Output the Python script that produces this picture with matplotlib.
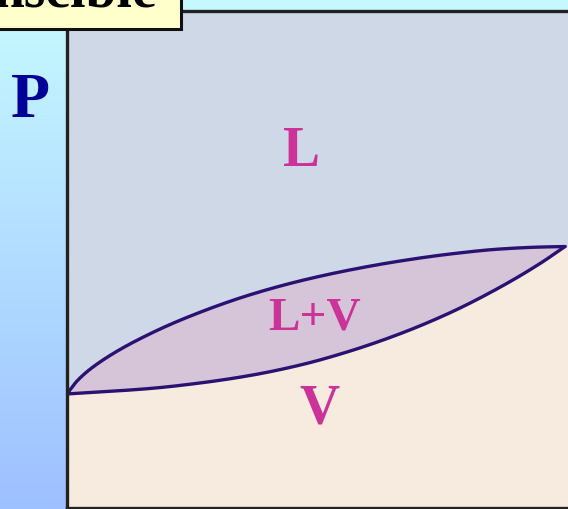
import numpy as np
import matplotlib
matplotlib.use("Agg")
import matplotlib.pyplot as plt
from matplotlib.patches import Rectangle

# Data (composition x, pressure P, normalised 0..1)
bubble_x = [0.0, 0.022, 0.066, 0.167, 0.267, 0.367, 0.468, 0.568, 0.669, 0.769, 0.869, 0.950, 1.0]
bubble_p = [0.229, 0.257, 0.293, 0.350, 0.393, 0.428, 0.456, 0.478, 0.496, 0.510, 0.520, 0.524, 0.525]
dew_x = [0.0, 0.066, 0.167, 0.267, 0.367, 0.468, 0.568, 0.669, 0.769, 0.869, 0.950, 1.0]
dew_p = [0.229, 0.233, 0.240, 0.251, 0.266, 0.287, 0.315, 0.350, 0.392, 0.443, 0.491, 0.525]
region_labels = ["L", "L+V", "V"]
axis_label = "P"
title_text = "nscible"

W, H = 568, 509
fig = plt.figure(figsize=(W / 100, H / 100), dpi=100)

# background gradient
bg = fig.add_axes([0, 0, 1, 1], zorder=0)
top = np.array([198, 250, 255]) / 255
bot = np.array([158, 192, 255]) / 255
t = np.linspace(0, 1, 256)[:, None]
grad = (top[None, :] * (1 - t) + bot[None, :] * t)[:, None, :]
bg.imshow(grad, aspect="auto", extent=[0, 1, 0, 1])
bg.set_axis_off()

# main axes
x0, y0 = 67, 1
x1, y1 = 568, 11
ax = fig.add_axes([x0 / W, y0 / H, (x1 - x0) / W, (H - y1 - y0) / H], zorder=1)
xmax = (x1 - x0) / 498
ax.set_xlim(0, xmax)
ylim_top = (H - y1 - y0) / 498
ax.set_ylim(0, ylim_top)


def pchip(xk, yk, xs):
    xk = np.asarray(xk, float); yk = np.asarray(yk, float)
    h = np.diff(xk); d = np.diff(yk) / h
    n = len(xk)
    m = np.zeros(n)
    for k in range(1, n - 1):
        if d[k - 1] * d[k] > 0:
            w1 = 2 * h[k] + h[k - 1]; w2 = h[k] + 2 * h[k - 1]
            m[k] = (w1 + w2) / (w1 / d[k - 1] + w2 / d[k])
    m[0] = d[0]; m[-1] = d[-1]
    out = np.empty_like(xs)
    for i, xv in enumerate(xs):
        j = min(max(np.searchsorted(xk, xv) - 1, 0), n - 2)
        hh = h[j]; s = (xv - xk[j]) / hh
        out[i] = ((2*s**3 - 3*s**2 + 1) * yk[j] + (s**3 - 2*s**2 + s) * hh * m[j]
                  + (-2*s**3 + 3*s**2) * yk[j+1] + (s**3 - s**2) * hh * m[j+1])
    return out


xs = np.linspace(0, 1, 500)
ub = pchip(bubble_x, bubble_p, xs)
ud = pchip(dew_x, dew_p, xs)

L_col = "#cfd8e7"
LV_col = "#d6c5d9"
V_col = "#f7ebe0"
ax.set_facecolor(V_col)
ax.fill_between(xs, ub, ylim_top + 1, color=L_col, lw=0)
ax.fill_between([1.0, xmax + 0.1], [ub[-1]] * 2, ylim_top + 1, color=L_col, lw=0)
ax.fill_between(xs, ud, ub, color=LV_col, lw=0)
line_col = "#2a1272"
ax.plot(xs, ub, color=line_col, lw=2.4, solid_capstyle="round")
ax.plot(xs, ud, color=line_col, lw=2.4, solid_capstyle="round")

ax.set_xticks([]); ax.set_yticks([])
for s in ["left", "top", "bottom"]:
    ax.spines[s].set_color("#222222")
    ax.spines[s].set_linewidth(2.4)
ax.spines["right"].set_visible(False)


def px(xp, yp):
    return xp / W, 1 - yp / H


serif = ["Liberation Serif", "DejaVu Serif"]
mag = "#cc3399"
fig.text(*px(302, 152), region_labels[0], color=mag, fontsize=40, fontweight="bold",
         family=serif, ha="center", va="center", zorder=5)
fig.text(*px(315, 318), region_labels[1], color=mag, fontsize=34, fontweight="bold",
         family=serif, ha="center", va="center", zorder=5)
fig.text(*px(319, 410), region_labels[2], color=mag, fontsize=40, fontweight="bold",
         family=serif, ha="center", va="center", zorder=5)
fig.text(*px(30, 102), axis_label, color="#000099", fontsize=46, fontweight="bold",
         family=serif, ha="center", va="center", zorder=5)

# title box
ov = fig.add_axes([0, 0, 1, 1], zorder=3)
ov.set_xlim(0, W); ov.set_ylim(H, 0); ov.set_axis_off()
ov.patch.set_alpha(0)
ov.add_patch(Rectangle((-10, -10), 191, 39, facecolor="#ffffcc", edgecolor="#111111", lw=2.2))
ov.text(157, 6, title_text, fontsize=40, fontweight="bold", family=serif,
        ha="right", va="baseline", color="black")

fig.savefig("out.png", dpi=100)
